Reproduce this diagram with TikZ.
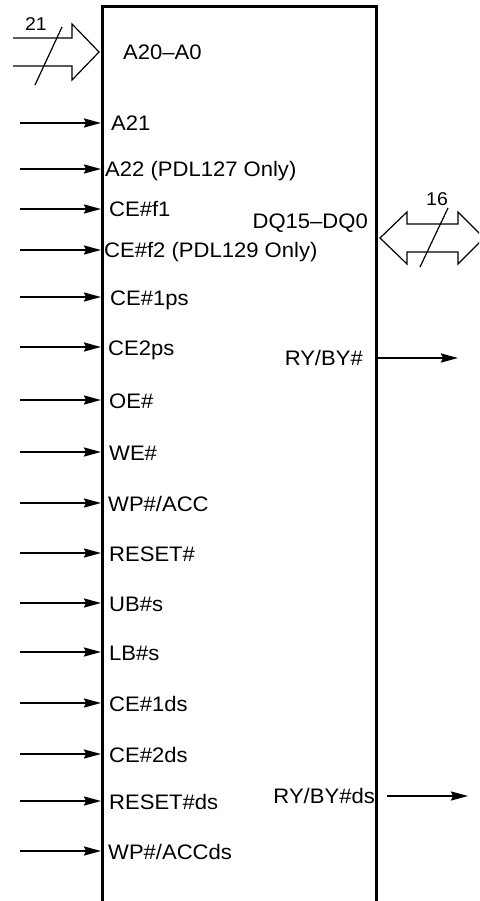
\documentclass[tikz,border=0pt]{standalone}
\usepackage{fontspec}
\setmainfont{Liberation Sans}
\newfontfamily\lblfont{Liberation Sans}[FakeStretch=1.05,Ligatures=TeX]
\usetikzlibrary{arrows.meta}
\begin{document}
\begin{tikzpicture}[x=1pt,y=-1pt,
  lbl/.style={inner sep=0pt, anchor=base west, font=\lblfont\fontsize{21}{24}\selectfont},
  rlbl/.style={inner sep=0pt, anchor=base east, font=\lblfont\fontsize{21}{24}\selectfont},
  nlbl/.style={inner sep=0pt, font=\lblfont\fontsize{18.5}{20}\selectfont},
  sig/.style={line width=2pt, -{Stealth[length=17pt,width=9pt,inset=2pt]}},
  boxline/.style={line width=3pt},
  bus/.style={line width=1.2pt, line join=miter}]
\clip (0,0) rectangle (479,901);
\useasboundingbox (0,0) rectangle (479,901);
% chip outline (open at bottom)
\draw[boxline] (102,901) -- (102,6.5) -- (376.5,6.5) -- (376.5,901);
% input bus A20-A0
\draw[bus] (13,38) -- (72,38) -- (72,24) -- (99,52) -- (72,80) -- (72,66) -- (13,66);
\coordinate (s1a) at (35,85);
\coordinate (s1b) at (62,27);
\draw[line width=1.2pt] (s1a) -- (s1b);
\node[nlbl] (n21) at (36,24.5) {21};
\node[lbl] (la) at (123,60) {A20–A0};
% bidirectional bus DQ15-DQ0
\draw[bus] (380,238) -- (407,212) -- (407,224) -- (458,224) -- (458,212) -- (484,238)
  -- (458,264) -- (458,252) -- (407,252) -- (407,264) -- cycle;
\coordinate (s2a) at (420,267);
\coordinate (s2b) at (448,208);
\draw[line width=1.2pt] (s2a) -- (s2b);
\node[nlbl] (n16) at (437,199) {16};
\node[rlbl] (ldq) at (368,228.5) {DQ15–DQ0};
% outputs
\node[rlbl] (lry) at (363,365) {RY/BY\#};
\coordinate (ry1) at (377,358);
\coordinate (ry2) at (458,358);
\draw[sig] (ry1) -- (ry2);
\node[rlbl] (lryds) at (375,803.5) {RY/BY\#ds};
\coordinate (rd1) at (387,796);
\coordinate (rd2) at (468,796);
\draw[sig] (rd1) -- (rd2);
% inputs
\foreach \i/\lx/\yy/\txt in {
  1/111/123/{A21},
  2/105/169/{A22 (PDL127 Only)},
  3/109/209/{CE\#f1},
  4/104/250/{CE\#f2 (PDL129 Only)},
  5/110/297/{CE\#1ps},
  6/108/347/{CE2ps},
  7/109/400/{OE\#},
  8/109/452/{WE\#},
  9/108/503/{WP\#/ACC},
  10/109/553/{RESET\#},
  11/109/603/{UB\#s},
  12/109/652/{LB\#s},
  13/109/703/{CE\#1ds},
  14/109/754/{CE\#2ds},
  15/109/801/{RESET\#ds},
  16/108/851/{WP\#/ACCds}}{
  \node[lbl] (l\i) at (\lx,\yy+8) {\txt};
  \coordinate (in\i) at (20,\yy);
  \coordinate (pin\i) at (101,\yy);
  \draw[sig] (in\i) -- (pin\i);
}
\end{tikzpicture}
\end{document}
